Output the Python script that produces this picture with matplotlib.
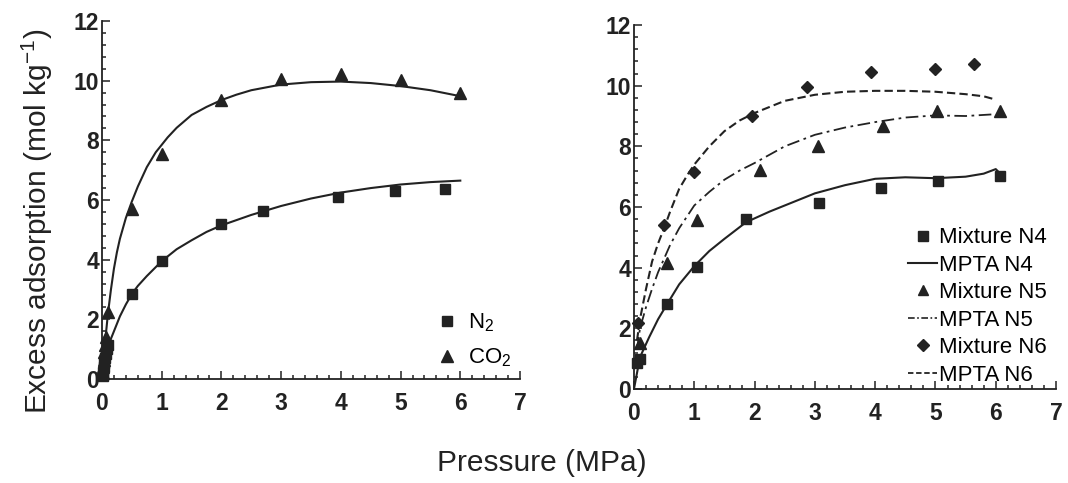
import numpy as np
import matplotlib
matplotlib.use("Agg")
import matplotlib.pyplot as plt
from matplotlib.ticker import MultipleLocator
from matplotlib.lines import Line2D

plt.rcParams['font.family'] = ['Liberation Sans', 'DejaVu Sans']
plt.rcParams['mathtext.fontset'] = 'custom'
plt.rcParams['mathtext.rm'] = 'Liberation Sans'
plt.rcParams['mathtext.it'] = 'Liberation Sans:italic'

INK = '#222222'

# --- pure gases (left panel) ---
n2_p = [0.01, 0.02, 0.03, 0.04, 0.05, 0.06, 0.08, 0.1, 0.5, 1.0, 2.0, 2.7, 3.95, 4.9, 5.75]
n2_q = [0.1, 0.25, 0.4, 0.55, 0.7, 0.85, 1.0, 1.15, 2.85, 3.95, 5.2, 5.63, 6.1, 6.3, 6.38]
co2_p = [0.01, 0.02, 0.03, 0.04, 0.05, 0.06, 0.1, 0.5, 1.0, 2.0, 3.0, 4.0, 5.0, 6.0]
co2_q = [0.2, 0.4, 0.65, 0.9, 1.15, 1.4, 2.25, 5.7, 7.55, 9.35, 10.05, 10.22, 10.02, 9.6]

n2_fit_p = [0, 0.05, 0.1, 0.15, 0.2, 0.3, 0.4, 0.5, 0.6, 0.75, 0.9, 1.0, 1.25, 1.5, 1.75, 2.0,
            2.5, 3.0, 3.5, 4.0, 4.5, 5.0, 5.5, 6.0]
n2_fit_q = [0, 0.6, 1.05, 1.35, 1.6, 2.1, 2.5, 2.85, 3.12, 3.45, 3.75, 3.95, 4.35, 4.65, 4.93, 5.15,
            5.5, 5.8, 6.05, 6.25, 6.4, 6.52, 6.6, 6.65]
co2_fit_p = [0, 0.05, 0.1, 0.15, 0.2, 0.25, 0.3, 0.4, 0.5, 0.6, 0.75, 0.9, 1.0, 1.1, 1.25, 1.5,
             1.75, 2.0, 2.25, 2.5, 3.0, 3.5, 4.0, 4.5, 5.0, 5.5, 6.0]
co2_fit_q = [0, 1.2, 2.2, 3.0, 3.7, 4.25, 4.7, 5.4, 5.95, 6.45, 7.1, 7.6, 7.85, 8.1, 8.42, 8.85,
             9.12, 9.35, 9.53, 9.68, 9.87, 9.95, 9.97, 9.92, 9.82, 9.68, 9.48]

# --- mixtures (right panel) ---
n4_p = [0.05, 0.1, 0.55, 1.04, 1.86, 3.07, 4.1, 5.04, 6.07]
n4_q = [0.85, 1.0, 2.8, 4.03, 5.6, 6.14, 6.63, 6.86, 7.03]
n5_p = [0.1, 0.55, 1.04, 2.09, 3.05, 4.13, 5.02, 6.07]
n5_q = [1.52, 4.16, 5.58, 7.23, 8.02, 8.68, 9.17, 9.17]
n6_p = [0.06, 0.5, 1.0, 1.96, 2.87, 3.93, 5.0, 5.64]
n6_q = [2.18, 5.42, 7.14, 9.0, 9.96, 10.46, 10.56, 10.73]

n4_fit_p = [0, 0.1, 0.25, 0.4, 0.55, 0.75, 1.0, 1.25, 1.5, 1.86, 2.25, 2.5, 3.0, 3.5, 4.0, 4.5,
            5.0, 5.5, 5.8, 6.0, 6.05]
n4_fit_q = [0, 1.05, 1.7, 2.3, 2.8, 3.45, 4.05, 4.55, 4.95, 5.5, 5.85, 6.05, 6.45, 6.72, 6.93,
            6.98, 6.95, 7.0, 7.1, 7.25, 7.15]
n5_fit_p = [0.05, 0.1, 0.2, 0.3, 0.4, 0.5, 0.6, 0.75, 0.9, 1.0, 1.25, 1.5, 1.75, 2.0, 2.5, 3.0,
            3.5, 4.0, 4.5, 5.0, 5.5, 6.0]
n5_fit_q = [1.3, 2.0, 2.7, 3.3, 3.85, 4.3, 4.75, 5.3, 5.75, 6.05, 6.5, 6.9, 7.2, 7.45, 8.0, 8.38,
            8.62, 8.8, 8.95, 9.02, 9.0, 9.06]
n6_fit_p = [0.05, 0.1, 0.2, 0.3, 0.4, 0.5, 0.6, 0.75, 0.9, 1.0, 1.25, 1.5, 1.75, 2.0, 2.5, 3.0,
            3.5, 4.0, 4.5, 5.0, 5.5, 5.8, 6.0]
n6_fit_q = [1.6, 2.3, 3.3, 4.2, 4.8, 5.3, 5.85, 6.6, 7.1, 7.4, 8.0, 8.5, 8.85, 9.1, 9.5, 9.7,
            9.8, 9.83, 9.83, 9.8, 9.72, 9.65, 9.54]

fig = plt.figure(figsize=(10.68, 4.83), dpi=100)
ax1 = fig.add_axes([0.0955, 0.2153, 0.3914, 0.7412])
ax2 = fig.add_axes([0.5936, 0.1946, 0.3952, 0.7536])


def style_axes(ax):
    ax.set_xlim(0, 7)
    ax.set_ylim(0, 12)
    ax.spines['top'].set_visible(False)
    ax.spines['right'].set_visible(False)
    for s in ('left', 'bottom'):
        ax.spines[s].set_color(INK)
        ax.spines[s].set_linewidth(1.3)
    ax.xaxis.set_major_locator(MultipleLocator(1))
    ax.xaxis.set_minor_locator(MultipleLocator(0.2))
    ax.yaxis.set_major_locator(MultipleLocator(2))
    ax.yaxis.set_minor_locator(MultipleLocator(0.4))
    ax.tick_params(which='both', direction='in', color=INK, width=1.1)
    ax.tick_params(which='major', length=6)
    ax.tick_params(which='minor', length=3)
    ax.tick_params(axis='x', which='major', pad=9.5)
    ax.tick_params(axis='y', which='major', pad=2)
    for lab in ax.get_xticklabels() + ax.get_yticklabels():
        lab.set_fontsize(16.5)
        lab.set_fontweight('bold')
        lab.set_color(INK)


style_axes(ax1)
style_axes(ax2)

mk = dict(linestyle='none', color=INK, clip_on=False, zorder=3)

# left: N2 and CO2 isotherms with fitted curves
ax1.plot(n2_fit_p, n2_fit_q, color=INK, lw=1.5)
ax1.plot(co2_fit_p, co2_fit_q, color=INK, lw=1.5)
ax1.plot(n2_p, n2_q, marker='s', markersize=7.5, label='N$_2$', **mk)
ax1.plot(co2_p, co2_q, marker='^', markersize=8.5, label='CO$_2$', **mk)
ax1.legend(loc='lower right', bbox_to_anchor=(1.0, 0.003), frameon=False, fontsize=16,
           handlelength=1.0, handletextpad=0.45, labelspacing=0.55, borderaxespad=0)

# right: mixtures and MPTA predictions
dash = (0, (4, 2))
dashdot = (0, (7, 2.5, 1.5, 2.5))
ax2.plot(n4_fit_p, n4_fit_q, color=INK, lw=1.5, linestyle='-')
ax2.plot(n5_fit_p, n5_fit_q, color=INK, lw=1.3, linestyle=dashdot)
ax2.plot(n6_fit_p, n6_fit_q, color=INK, lw=1.5, linestyle=dash)
ax2.plot(n4_p, n4_q, marker='s', markersize=7.5, **mk)
ax2.plot(n5_p, n5_q, marker='^', markersize=8.5, **mk)
ax2.plot(n6_p, n6_q, marker='D', markersize=6.5, **mk)

handles = [
    Line2D([], [], linestyle='none', marker='s', markersize=6.5, color=INK),
    Line2D([], [], color=INK, lw=1.5),
    Line2D([], [], linestyle='none', marker='^', markersize=7.5, color=INK),
    Line2D([], [], color=INK, lw=1.2, linestyle=(0, (4, 1.5, 1, 1.5))),
    Line2D([], [], linestyle='none', marker='D', markersize=6, color=INK),
    Line2D([], [], color=INK, lw=1.3, linestyle=(0, (3, 1.5))),
]
labels = ['Mixture N4', 'MPTA N4', 'Mixture N5', 'MPTA N5', 'Mixture N6', 'MPTA N6']
ax2.legend(handles, labels, loc='lower right', bbox_to_anchor=(1.0, -0.015), frameon=False,
           fontsize=16, handlelength=1.3, handletextpad=0.1, labelspacing=0.29,
           borderaxespad=0)

fig.text(0.035, 0.542, 'Excess adsorption (mol kg$^{-1}$)', rotation=90, fontsize=21.5,
         ha='center', va='center', color=INK)
fig.text(0.507, 0.042, 'Pressure (MPa)', fontsize=21.5, ha='center', va='center', color=INK)

fig.savefig('out.png', dpi=100)
